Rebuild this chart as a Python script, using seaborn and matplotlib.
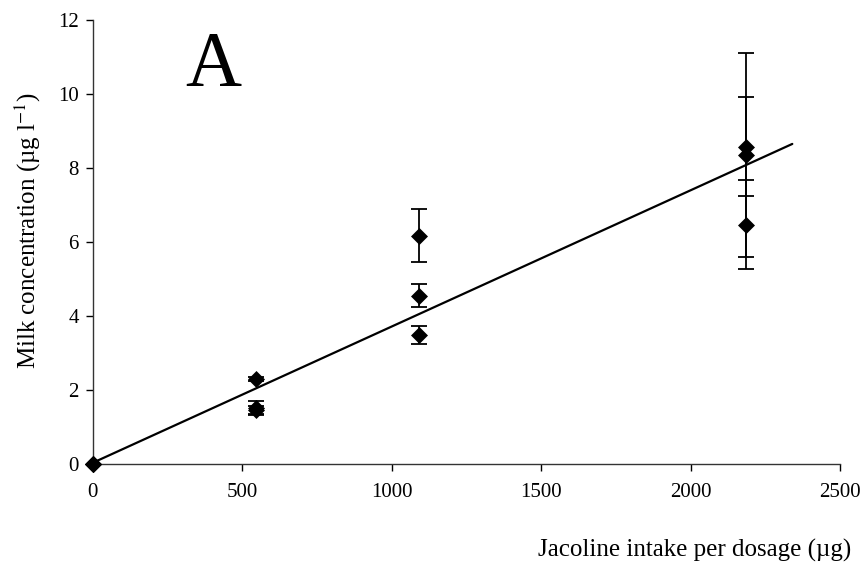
import numpy as np
import pandas as pd
import matplotlib
matplotlib.use("Agg")
import matplotlib.pyplot as plt
import seaborn as sns

# dosage (ug) and milk concentration (ug/l), three cows per dosage
dosage = [0, 0, 0, 546, 546, 546, 1092, 1092, 1092, 2184, 2184, 2184]
conc = [0, 0, 0, 2.30, 1.52, 1.45, 6.17, 4.55, 3.48, 8.58, 8.36, 6.47]
conc_err = [0, 0, 0, 0.05, 0.17, 0.12, 0.72, 0.32, 0.24, 1.33, 2.76, 1.21]

# regression line end points
fit_x = [0, 2340]
fit_y = [0.03, 8.65]

df = pd.DataFrame({"dosage": dosage, "conc": conc, "err": conc_err})
fit = pd.DataFrame({"x": fit_x, "y": fit_y})

sns.set_style("ticks")
plt.rcParams["font.family"] = ["Liberation Serif", "DejaVu Serif"]
plt.rcParams["mathtext.fontset"] = "stix"
plt.rcParams["text.color"] = "black"
plt.rcParams["axes.labelcolor"] = "black"

fig = plt.figure(figsize=(8.67, 5.72), dpi=100)
ax = fig.add_axes([0.107, 0.189, 0.862, 0.776])

sns.lineplot(data=fit, x="x", y="y", color="black", linewidth=1.6, ax=ax)
ax.errorbar(df["dosage"], df["conc"], yerr=df["err"], fmt="none",
            ecolor="black", elinewidth=1.3, capsize=5.5, capthick=1.3, zorder=3)
sns.scatterplot(data=df, x="dosage", y="conc", marker="D", s=75, color="black",
                edgecolor="black", linewidth=0, ax=ax, zorder=4, clip_on=False)

ax.set_xlim(0, 2500)
ax.set_ylim(0, 12)
ax.set_xticks(np.arange(0, 2501, 500))
ax.set_yticks(np.arange(0, 13, 2))
ax.tick_params(direction="out", length=5, width=1, labelsize=15, colors="black")
ax.tick_params(axis="x", pad=9)
ax.tick_params(axis="y", pad=5)
for s in ["left", "bottom"]:
    ax.spines[s].set_color("#333333")
    ax.spines[s].set_linewidth(1)
sns.despine(ax=ax)

ax.set_xlabel("")
ax.set_ylabel("Milk concentration (µg l$^{-1}$)", fontsize=18)
ax.yaxis.set_label_coords(-0.066, 0.527)
fig.text(0.982, 0.038, "Jacoline intake per dosage (µg)", fontsize=18,
         ha="right", va="center")
ax.text(0.161, 0.895, "A", transform=ax.transAxes, fontsize=56,
        ha="center", va="center", color="black")

fig.savefig("out.png", dpi=100)
